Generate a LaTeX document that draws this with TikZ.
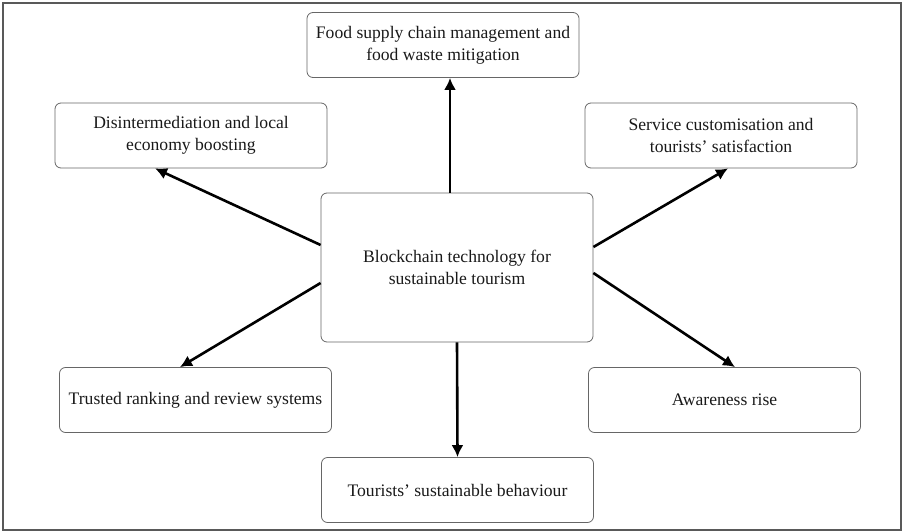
\documentclass[tikz,border=0pt]{standalone}
\usepackage{fontspec}
\setmainfont{Liberation Serif}
\usepackage{tikz}
\usetikzlibrary{arrows.meta}

\begin{document}
\begin{tikzpicture}[x=1pt, y=-1pt,
    every node/.style={font=\fontsize{17.6}{22}\selectfont, text=black!90},
    topicbox/.style={draw=black!60, line width=0.8pt, rounded corners=6pt, align=center, minimum width=272pt, minimum height=65pt, inner sep=0pt},
    hubbox/.style={topicbox, minimum height=149pt},
    arr/.style={-{Latex[length=12pt, width=12pt]}, line width=2.6pt}]
    % Frame
    \useasboundingbox (0,0) rectangle (904,532);
    \draw[black!65, line width=1.6pt] (3,3) rectangle (901,530);

    % Central node
    \node[hubbox] (hub) at (457,267.5) {Blockchain technology for\\sustainable tourism};

    % Surrounding topics
    \node[topicbox] (food) at (443,45) {Food supply chain management and\\food waste mitigation};
    \node[topicbox] (disint) at (191,135.5) {Disintermediation and local\\economy boosting};
    \node[topicbox] (custom) at (721,135.5) {Service customisation and\\tourists' satisfaction};
    \node[topicbox] (ranking) at (195.5,400) {Trusted ranking and review systems};
    \node[topicbox] (aware) at (724.5,400) {Awareness rise};
    \node[topicbox] (behave) at (457.5,490) {Tourists' sustainable behaviour};

    % Arrows
    \draw[arr] ([xshift=-7pt]hub.north) -- ([xshift=-7pt]hub.north |- food.south);
    \draw[arr] ([yshift=22.5pt]hub.west) -- ([xshift=-36pt]disint.south);
    \draw[arr] ([yshift=20.5pt]hub.east) -- ([xshift=7pt]custom.south);
    \draw[arr] ([yshift=-15.5pt]hub.west) -- ([xshift=-15.5pt]ranking.north);
    \draw[arr] ([yshift=-5.5pt]hub.east) -- ([xshift=10.5pt]aware.north);
    \draw[arr] (hub.south) -- (behave.north);
\end{tikzpicture}
\end{document}
